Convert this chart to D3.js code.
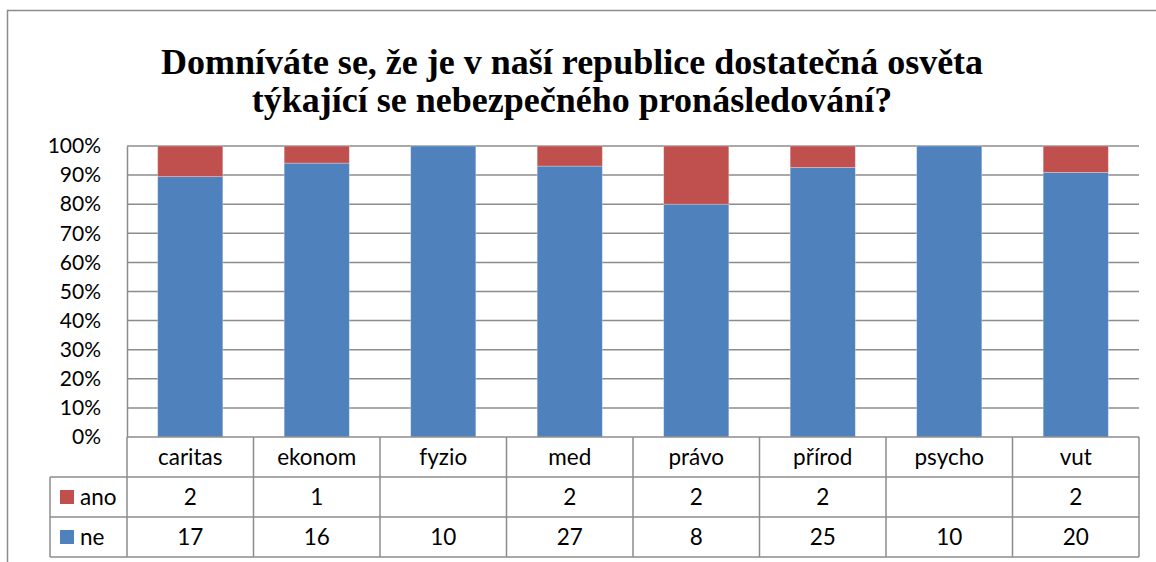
<!DOCTYPE html>
<html><head><meta charset="utf-8">
<script src="https://cdn.jsdelivr.net/npm/d3@7"></script>
<style>body{margin:0;background:#fff}svg{display:block}</style>
</head><body>
<script>
const categories = ["caritas","ekonom","fyzio","med","právo","přírod","psycho","vut"];
const ano = [2,1,null,2,2,2,null,2];
const ne = [17,16,10,27,8,25,10,20];
const seriesNames = ["ano","ne"];
const seriesColors = ["#C0504D","#4F81BD"];
const yTicks = [0,0.1,0.2,0.3,0.4,0.5,0.6,0.7,0.8,0.9,1];
const titleLines = ["Domníváte se, že je v naší republice dostatečná osvěta","týkající se nebezpečného pronásledování?"];

const W=1156,H=562;
const svg=d3.select("body").append("svg").attr("width",W).attr("height",H);
const grid="#8c8c8c";
const font="Lato, 'Open Sans', sans-serif";
const tfs=22.5;

// outer border
svg.append("path").attr("d",`M7.5,${H} V10.5 H${W}`).attr("fill","none").attr("stroke","#8c8c8c").attr("stroke-width",1.5);

// title
svg.append("g").selectAll("text").data(titleLines).join("text")
  .attr("x",572).attr("y",(d,i)=>74+i*38).attr("text-anchor","middle")
  .attr("font-family","'Liberation Serif', 'Times New Roman', serif").attr("font-weight","bold")
  .attr("font-size",36).attr("fill","#000").text(d=>d);

const L=127,R=1139,T=146,B=437;
const x=d3.scaleBand().domain(categories).range([L,R]).paddingInner(0.485).paddingOuter(0.2425);
const y=d3.scaleLinear().domain([0,1]).range([B,T]);

// gridlines
svg.append("g").selectAll("line").data(yTicks.filter(t=>t>0)).join("line")
  .attr("x1",L).attr("x2",R).attr("y1",d=>y(d)).attr("y2",d=>y(d))
  .attr("stroke",grid).attr("stroke-width",1.5);

// y axis
const yAxis=d3.axisLeft(y).tickValues(yTicks).tickFormat(d3.format(".0%")).tickSize(0).tickPadding(26);
const ya=svg.append("g").attr("transform",`translate(${L},0)`).call(yAxis);
ya.select(".domain").attr("stroke",grid).attr("stroke-width",1.5);
ya.selectAll("text").attr("font-family",font).attr("font-size",21).attr("fill","#000");

// stacked percent data
const rows=categories.map((c,i)=>({cat:c,ano:ano[i]||0,ne:ne[i]||0}));
const stack=d3.stack().keys(["ne","ano"]).offset(d3.stackOffsetExpand);
const layers=stack(rows);
const colorOf={ano:seriesColors[0],ne:seriesColors[1]};
svg.append("g").selectAll("g").data(layers).join("g").attr("fill",d=>colorOf[d.key])
  .selectAll("rect").data(d=>d).join("rect")
  .attr("x",d=>x(d.data.cat)).attr("width",x.bandwidth())
  .attr("y",d=>y(d[1])).attr("height",d=>Math.max(0,y(d[0])-y(d[1])))
  .attr("stroke","rgba(255,255,255,0.35)").attr("stroke-width",0.8);

// data table
const rowH=40;
const tbl=svg.append("g").attr("stroke",grid).attr("stroke-width",1.5).attr("fill","none");
const step=x.step();
const colEdges=categories.map((c,i)=>L+i*step).concat([R]);
tbl.append("line").attr("x1",L).attr("x2",R).attr("y1",B).attr("y2",B);
[1,2,3].forEach(k=>{
  const yy=B+k*rowH;
  tbl.append("line").attr("x1",50).attr("x2",R).attr("y1",yy).attr("y2",yy);
});
colEdges.forEach(xe=>{
  tbl.append("line").attr("x1",xe).attr("x2",xe).attr("y1",B).attr("y2",B+3*rowH);
});
tbl.append("line").attr("x1",50).attr("x2",50).attr("y1",B+rowH).attr("y2",B+3*rowH);

const tx=svg.append("g").attr("font-family",font).attr("font-size",tfs).attr("fill","#000").attr("text-anchor","middle");
tx.selectAll("text.h").data(categories).join("text").attr("class","h")
  .attr("x",d=>x(d)+x.bandwidth()/2).attr("y",B+rowH/2+8).text(d=>d);
[ano,ne].forEach((arr,r)=>{
  tx.selectAll("text.r"+r).data(categories).join("text").attr("class","r"+r)
    .attr("x",d=>x(d)+x.bandwidth()/2).attr("y",B+(r+1)*rowH+rowH/2+8)
    .text((d,i)=>arr[i]==null?"":arr[i]);
});
// legend keys
seriesNames.forEach((s,r)=>{
  const cy=B+(r+1)*rowH+rowH/2;
  svg.append("rect").attr("x",60).attr("y",cy-7).attr("width",14).attr("height",14).attr("fill",seriesColors[r]);
  svg.append("text").attr("x",80).attr("y",cy+8).attr("font-family",font).attr("font-size",tfs).text(s);
});
</script>
</body></html>
